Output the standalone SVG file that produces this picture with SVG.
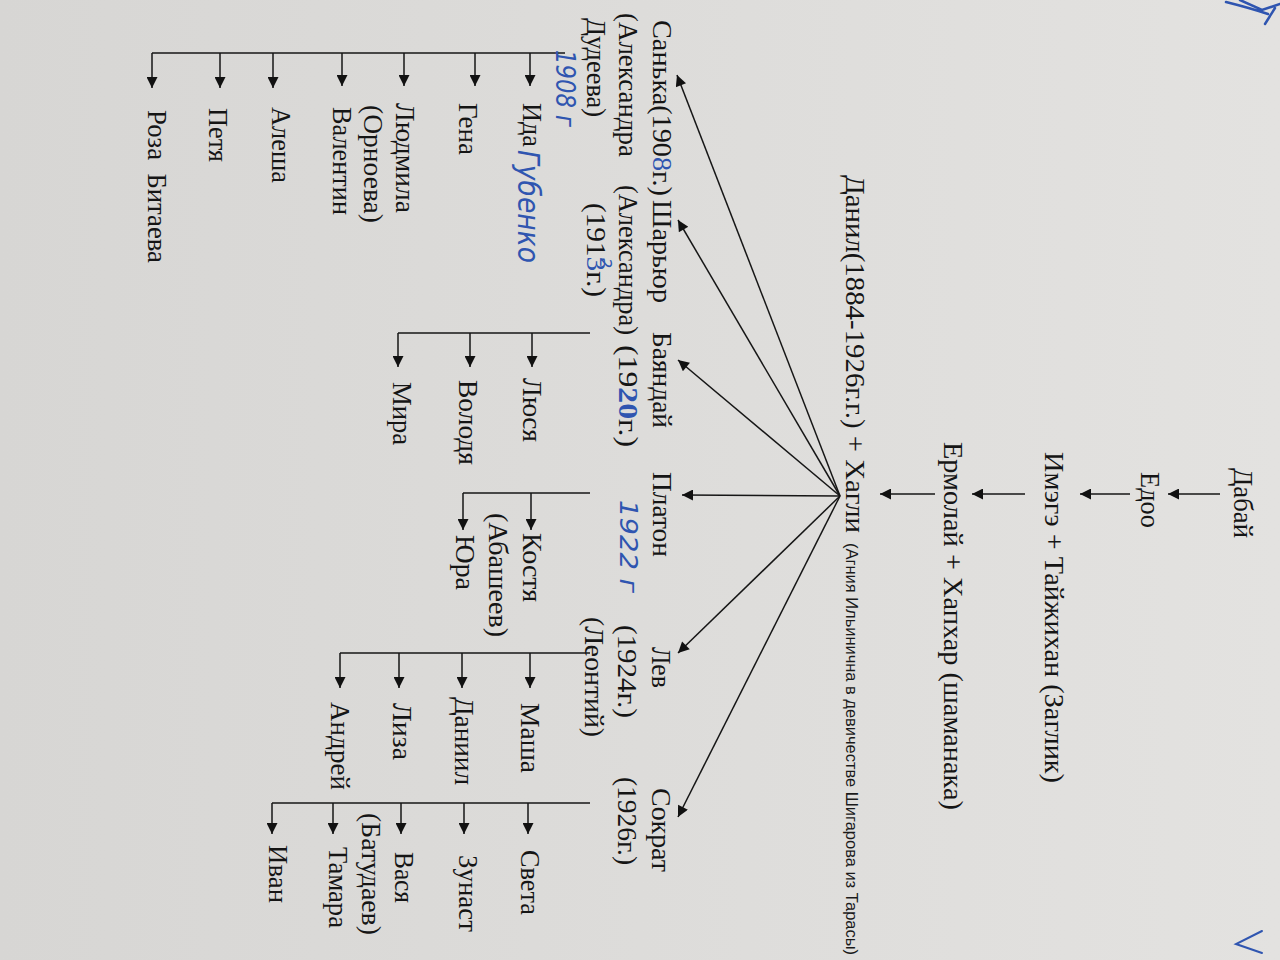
<svg xmlns="http://www.w3.org/2000/svg" width="1280" height="960" viewBox="0 0 1280 960">
<defs>
<linearGradient id="bg" x1="0" y1="0" x2="1" y2="0">
<stop offset="0" stop-color="#d7d6d4"/>
<stop offset="1" stop-color="#e3e2e0"/>
</linearGradient>
<marker id="ah" viewBox="0 0 10 10" refX="10" refY="5" markerUnits="userSpaceOnUse" markerWidth="13" markerHeight="11" orient="auto">
<path d="M0,0 L10,5 L0,10 z" fill="#111"/>
</marker>
<style>
.t{font-family:"Liberation Serif","Times New Roman",serif;font-size:27px;fill:#151515}
.s{font-family:"Liberation Sans",Arial,sans-serif;font-size:16px;fill:#1a1a1a}
.b{font-family:"DejaVu Sans","Liberation Sans",sans-serif;font-style:italic;fill:#2f55b0}
.bt{fill:#2f55b0}
.ln{stroke:#161616;stroke-width:1.5;fill:none}
.ar{stroke:#161616;stroke-width:1.5;fill:none;marker-end:url(#ah)}
</style>
</defs>
<rect width="1280" height="960" fill="url(#bg)"/>

<g id="connectors">
<line class="ar" x1="1220" y1="494" x2="1168" y2="494"/>
<line class="ar" x1="1130" y1="494" x2="1080" y2="494"/>
<line class="ar" x1="1025" y1="494" x2="972" y2="494"/>
<line class="ar" x1="935" y1="494" x2="880" y2="494"/>
<line class="ar" x1="840" y1="496" x2="677" y2="75"/>
<line class="ar" x1="840" y1="496" x2="678" y2="220"/>
<line class="ar" x1="840" y1="496" x2="678" y2="360"/>
<line class="ar" x1="840" y1="496" x2="682" y2="495"/>
<line class="ar" x1="840" y1="496" x2="678" y2="653"/>
<line class="ar" x1="840" y1="496" x2="678" y2="817"/>
<path class="ln" d="M565,53 L152,53"/>
<line class="ar" x1="530" y1="53" x2="530" y2="86"/>
<line class="ar" x1="475" y1="53" x2="475" y2="86"/>
<line class="ar" x1="404" y1="53" x2="404" y2="86"/>
<line class="ar" x1="342" y1="53" x2="342" y2="86"/>
<line class="ar" x1="273" y1="53" x2="273" y2="88"/>
<line class="ar" x1="220" y1="53" x2="220" y2="88"/>
<line class="ar" x1="152" y1="53" x2="152" y2="88"/>
<path class="ln" d="M590,333 L398,333"/>
<line class="ar" x1="532" y1="333" x2="532" y2="367"/>
<line class="ar" x1="470" y1="333" x2="470" y2="367"/>
<line class="ar" x1="398" y1="333" x2="398" y2="367"/>
<path class="ln" d="M590,493 L463,493"/>
<line class="ar" x1="531" y1="493" x2="531" y2="530"/>
<line class="ar" x1="463" y1="493" x2="463" y2="530"/>
<path class="ln" d="M590,653 L340,653"/>
<line class="ar" x1="530" y1="653" x2="530" y2="688"/>
<line class="ar" x1="462" y1="653" x2="462" y2="688"/>
<line class="ar" x1="399" y1="653" x2="399" y2="688"/>
<line class="ar" x1="340" y1="653" x2="340" y2="688"/>
<path class="ln" d="M590,803 L272,803"/>
<line class="ar" x1="528" y1="803" x2="528" y2="834"/>
<line class="ar" x1="464" y1="803" x2="464" y2="834"/>
<line class="ar" x1="401" y1="803" x2="401" y2="834"/>
<line class="ar" x1="333" y1="803" x2="333" y2="834"/>
<line class="ar" x1="272" y1="803" x2="272" y2="834"/>
</g>

<g id="n-dabai"><text class="t" transform="translate(1234,468) rotate(90)" textLength="70" lengthAdjust="spacingAndGlyphs">Дабай</text></g>
<g id="n-edoo"><text class="t" transform="translate(1141,472) rotate(90)" textLength="56" lengthAdjust="spacingAndGlyphs">Едоо</text></g>
<g id="n-imege"><text class="t" transform="translate(1045,452) rotate(90)" textLength="331" lengthAdjust="spacingAndGlyphs">Имэгэ + Тайжихан (Заглик)</text></g>
<g id="n-ermolai"><text class="t" transform="translate(944,442) rotate(90)" textLength="368" lengthAdjust="spacingAndGlyphs">Ермолай + Хапхар (шаманака)</text></g>
<g id="n-danil">
<text class="t" transform="translate(846,175) rotate(90)" textLength="358" lengthAdjust="spacingAndGlyphs">Данил(1884-1926г.г.) + Хагли</text>
<text class="s" transform="translate(846,543) rotate(90)" textLength="412" lengthAdjust="spacingAndGlyphs">(Агния Ильинична в девичестве Шигарова из Тарасы)</text>
</g>

<g id="n-sanka">
<text class="t" transform="translate(653,20) rotate(90)" textLength="176" lengthAdjust="spacingAndGlyphs">Санька(190<tspan class="bt">8</tspan>г.)</text>
<text class="t" transform="translate(619,13) rotate(90)" textLength="144" lengthAdjust="spacingAndGlyphs">(Александра</text>
<text class="t" transform="translate(587,18) rotate(90)" textLength="99" lengthAdjust="spacingAndGlyphs">Дудеева)</text>
</g>
<g id="n-sharyur">
<text class="t" transform="translate(653,200) rotate(90)" textLength="103" lengthAdjust="spacingAndGlyphs">Шарьюр</text>
<text class="t" transform="translate(619,185) rotate(90)" textLength="150" lengthAdjust="spacingAndGlyphs">(Александра)</text>
<text class="t" transform="translate(587,203) rotate(90)" textLength="94" lengthAdjust="spacingAndGlyphs">(191<tspan class="bt">3</tspan>г.)</text>
<text class="b" font-size="16" transform="translate(600,258) rotate(90)">2</text>
</g>
<g id="n-bayandai">
<text class="t" transform="translate(653,332) rotate(90)" textLength="96" lengthAdjust="spacingAndGlyphs">Баяндай</text>
<text class="t" transform="translate(619,345) rotate(90)" textLength="102" lengthAdjust="spacingAndGlyphs">(19<tspan class="bt" font-weight="bold">20</tspan>г.)</text>
</g>
<g id="n-platon">
<text class="t" transform="translate(653,472) rotate(90)" textLength="85" lengthAdjust="spacingAndGlyphs">Платон</text>
<text class="b" font-size="24" transform="translate(620,500) rotate(90)" textLength="93" lengthAdjust="spacingAndGlyphs">1922 г</text>
</g>
<g id="n-lev">
<text class="t" transform="translate(652,647) rotate(90)" textLength="41" lengthAdjust="spacingAndGlyphs">Лев</text>
<text class="t" transform="translate(618,625) rotate(90)" textLength="93" lengthAdjust="spacingAndGlyphs">(1924г.)</text>
<text class="t" transform="translate(585,617) rotate(90)" textLength="120" lengthAdjust="spacingAndGlyphs">(Леонтий)</text>
</g>
<g id="n-sokrat">
<text class="t" transform="translate(652,788) rotate(90)" textLength="84" lengthAdjust="spacingAndGlyphs">Сократ</text>
<text class="t" transform="translate(618,777) rotate(90)" textLength="88" lengthAdjust="spacingAndGlyphs">(1926г.)</text>
</g>

<g id="n-ida">
<text class="b" font-size="26" transform="translate(556,50) rotate(90)" textLength="77" lengthAdjust="spacingAndGlyphs">1908 г</text>
<text class="t" transform="translate(523,103) rotate(90)" textLength="44" lengthAdjust="spacingAndGlyphs">Ида</text>
<text class="b" font-size="30" transform="translate(518,150) rotate(90)" textLength="113" lengthAdjust="spacingAndGlyphs">Губенко</text>
</g>
<g id="n-gena"><text class="t" transform="translate(459,103) rotate(90)" textLength="52" lengthAdjust="spacingAndGlyphs">Гена</text></g>
<g id="n-lyudmila">
<text class="t" transform="translate(396,103) rotate(90)" textLength="110" lengthAdjust="spacingAndGlyphs">Людмила</text>
<text class="t" transform="translate(364,105) rotate(90)" textLength="118" lengthAdjust="spacingAndGlyphs">(Орноева)</text>
</g>
<g id="n-valentin"><text class="t" transform="translate(333,107) rotate(90)" textLength="108" lengthAdjust="spacingAndGlyphs">Валентин</text></g>
<g id="n-alesha"><text class="t" transform="translate(272,107) rotate(90)" textLength="76" lengthAdjust="spacingAndGlyphs">Алеша</text></g>
<g id="n-petya"><text class="t" transform="translate(209,108) rotate(90)" textLength="54" lengthAdjust="spacingAndGlyphs">Петя</text></g>
<g id="n-roza"><text class="t" transform="translate(148,110) rotate(90)" textLength="153" lengthAdjust="spacingAndGlyphs" xml:space="preserve">Роза  Битаева</text></g>

<g id="n-lyusya"><text class="t" transform="translate(523,378) rotate(90)" textLength="64" lengthAdjust="spacingAndGlyphs">Люся</text></g>
<g id="n-volodya"><text class="t" transform="translate(459,380) rotate(90)" textLength="85" lengthAdjust="spacingAndGlyphs">Володя</text></g>
<g id="n-mira"><text class="t" transform="translate(393,382) rotate(90)" textLength="63" lengthAdjust="spacingAndGlyphs">Мира</text></g>

<g id="n-kostya">
<text class="t" transform="translate(523,533) rotate(90)" textLength="69" lengthAdjust="spacingAndGlyphs">Костя</text>
<text class="t" transform="translate(489,513) rotate(90)" textLength="124" lengthAdjust="spacingAndGlyphs">(Абашеев)</text>
</g>
<g id="n-yura"><text class="t" transform="translate(456,535) rotate(90)" textLength="55" lengthAdjust="spacingAndGlyphs">Юра</text></g>

<g id="n-masha"><text class="t" transform="translate(521,703) rotate(90)" textLength="70" lengthAdjust="spacingAndGlyphs">Маша</text></g>
<g id="n-daniil"><text class="t" transform="translate(455,697) rotate(90)" textLength="88" lengthAdjust="spacingAndGlyphs">Даниил</text></g>
<g id="n-liza"><text class="t" transform="translate(393,703) rotate(90)" textLength="57" lengthAdjust="spacingAndGlyphs">Лиза</text></g>
<g id="n-andrei"><text class="t" transform="translate(331,702) rotate(90)" textLength="88" lengthAdjust="spacingAndGlyphs">Андрей</text></g>

<g id="n-sveta"><text class="t" transform="translate(521,850) rotate(90)" textLength="65" lengthAdjust="spacingAndGlyphs">Света</text></g>
<g id="n-zunast"><text class="t" transform="translate(459,855) rotate(90)" textLength="77" lengthAdjust="spacingAndGlyphs">Зунаст</text></g>
<g id="n-vasya">
<text class="t" transform="translate(395,852) rotate(90)" textLength="51" lengthAdjust="spacingAndGlyphs">Вася</text>
<text class="t" transform="translate(362,813) rotate(90)" textLength="122" lengthAdjust="spacingAndGlyphs">(Батудаев)</text>
</g>
<g id="n-tamara"><text class="t" transform="translate(329,847) rotate(90)" textLength="81" lengthAdjust="spacingAndGlyphs">Тамара</text></g>
<g id="n-ivan"><text class="t" transform="translate(269,845) rotate(90)" textLength="58" lengthAdjust="spacingAndGlyphs">Иван</text></g>

<g id="marks" stroke="#2f55b0" stroke-width="2" fill="none" stroke-linecap="round">
<path d="M1262,931 L1236,944 L1262,953"/>
<path d="M1226,2 Q1250,8 1268,14 M1240,0 L1262,10 L1280,4 M1265,24 L1275,8" stroke-width="2.5"/>
</g>
</svg>
